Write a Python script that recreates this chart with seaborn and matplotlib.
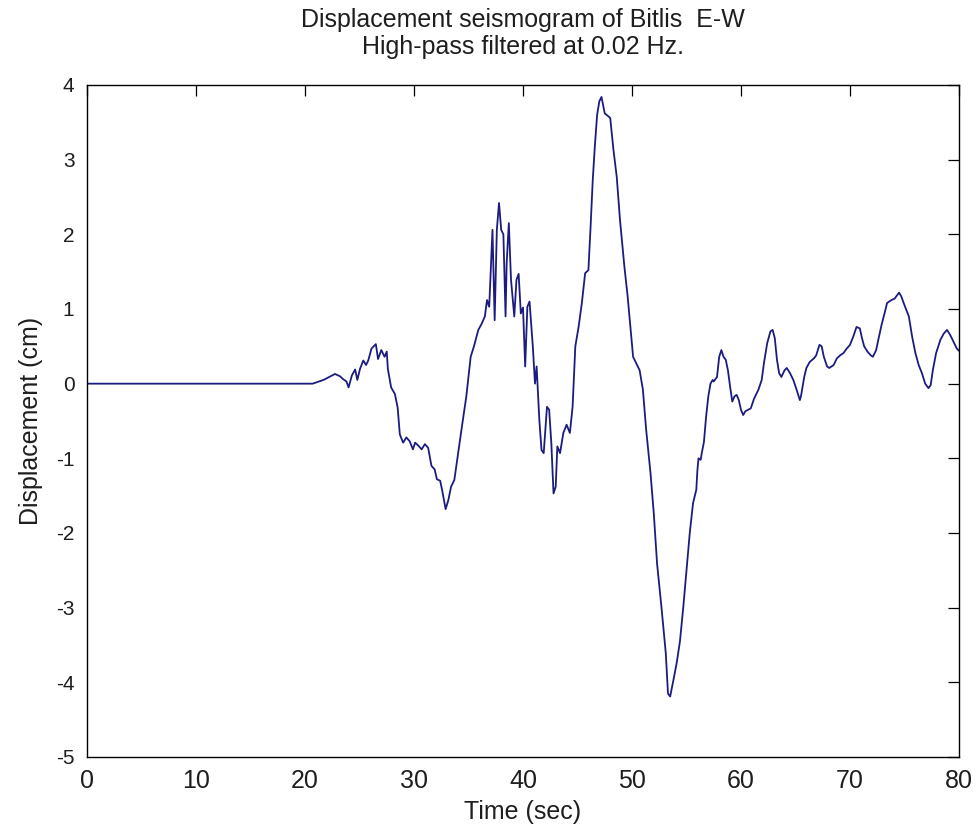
import matplotlib
matplotlib.use("Agg")
import matplotlib.pyplot as plt
import numpy as np
import pandas as pd
import seaborn as sns

# Bitlis E-W displacement trace (cm) against time (s), high-pass filtered at 0.02 Hz
time_s = [
    0.0, 20.7, 21.7, 22.3, 22.75, 23.2, 23.5, 23.8, 24.0, 24.3,
    24.6, 24.8, 25.05, 25.35, 25.6, 25.8, 26.1, 26.5, 26.7, 27.0,
    27.3, 27.5, 27.6, 27.9, 28.25, 28.5, 28.7, 29.0, 29.3, 29.6,
    29.9, 30.1, 30.4, 30.7, 31.0, 31.3, 31.6, 31.9, 32.1, 32.4,
    32.6, 32.9, 33.15, 33.4, 33.7, 34.05, 34.4, 34.8, 35.2, 35.5,
    35.9, 36.2, 36.5, 36.7, 36.9, 37.2, 37.4, 37.6, 37.8, 38.0,
    38.2, 38.4, 38.5, 38.7, 38.9, 39.2, 39.4, 39.6, 39.8, 40.0,
    40.2, 40.4, 40.6, 40.9, 41.1, 41.25, 41.5, 41.7, 41.9, 42.2,
    42.4, 42.6, 42.8, 43.0, 43.15, 43.4, 43.7, 44.0, 44.3, 44.55,
    44.8, 45.1, 45.4, 45.7, 46.0, 46.2, 46.4, 46.6, 46.8, 47.0,
    47.2, 47.5, 48.0, 48.3, 48.6, 48.9, 49.3, 49.6, 49.8, 50.1,
    50.4, 50.7, 51.0, 51.3, 51.7, 52.0, 52.3, 52.7, 53.1, 53.3,
    53.5, 53.8, 54.1, 54.4, 54.7, 55.0, 55.3, 55.6, 55.9, 56.0,
    56.1, 56.3, 56.4, 56.6, 56.8, 57.0, 57.2, 57.4, 57.5, 57.8,
    58.0, 58.2, 58.4, 58.6, 58.8, 59.0, 59.2, 59.4, 59.6, 59.8,
    60.0, 60.2, 60.4, 60.9, 61.2, 61.6, 61.9, 62.1, 62.4, 62.7,
    62.9, 63.1, 63.3, 63.5, 63.7, 64.0, 64.2, 64.5, 64.8, 65.1,
    65.4, 65.5, 65.8, 66.0, 66.3, 66.7, 66.9, 67.2, 67.4, 67.6,
    67.9, 68.1, 68.5, 68.8, 69.1, 69.4, 69.7, 70.0, 70.3, 70.6,
    70.9, 71.1, 71.3, 71.6, 71.9, 72.1, 72.4, 72.6, 72.9, 73.2,
    73.4, 73.8, 74.1, 74.5, 74.7, 75.0, 75.4, 75.7, 76.0, 76.3,
    76.6, 76.9, 77.2, 77.4, 77.6, 77.9, 78.3, 78.6, 78.9, 79.2,
    79.5, 79.8, 80.0,
]

displacement_cm = [
    0.0, 0.0, 0.05, 0.095, 0.13, 0.10, 0.06, 0.03, -0.05, 0.11,
    0.19, 0.05, 0.20, 0.31, 0.25, 0.31, 0.47, 0.53, 0.33, 0.45,
    0.36, 0.43, 0.20, -0.05, -0.14, -0.32, -0.68, -0.79, -0.72, -0.77,
    -0.88, -0.79, -0.83, -0.88, -0.81, -0.86, -1.10, -1.15, -1.28, -1.30,
    -1.44, -1.68, -1.56, -1.38, -1.29, -0.93, -0.57, -0.17, 0.36, 0.50,
    0.72, 0.80, 0.90, 1.12, 1.03, 2.06, 0.85, 2.06, 2.42, 2.06,
    2.00, 0.90, 1.61, 2.15, 1.39, 0.90, 1.39, 1.47, 0.94, 1.02,
    0.23, 1.03, 1.10, 0.50, 0.00, 0.23, -0.49, -0.89, -0.93, -0.31,
    -0.35, -0.80, -1.47, -1.38, -0.84, -0.93, -0.66, -0.55, -0.66, -0.31,
    0.50, 0.76, 1.08, 1.48, 1.52, 2.10, 2.73, 3.20, 3.60, 3.78,
    3.84, 3.62, 3.56, 3.13, 2.77, 2.19, 1.57, 1.17, 0.85, 0.36,
    0.27, 0.18, -0.08, -0.62, -1.20, -1.74, -2.41, -2.99, -3.61, -4.15,
    -4.19, -3.97, -3.74, -3.45, -3.00, -2.50, -2.00, -1.60, -1.42, -1.16,
    -1.00, -1.02, -0.93, -0.78, -0.44, -0.17, 0.00, 0.05, 0.03, 0.09,
    0.36, 0.45, 0.36, 0.32, 0.18, -0.04, -0.24, -0.17, -0.15, -0.22,
    -0.35, -0.42, -0.37, -0.33, -0.20, -0.08, 0.05, 0.27, 0.54, 0.70,
    0.72, 0.61, 0.32, 0.14, 0.09, 0.18, 0.21, 0.14, 0.05, -0.08,
    -0.22, -0.17, 0.09, 0.21, 0.29, 0.34, 0.38, 0.52, 0.50, 0.36,
    0.23, 0.21, 0.25, 0.34, 0.38, 0.41, 0.47, 0.52, 0.63, 0.76,
    0.74, 0.61, 0.50, 0.43, 0.38, 0.36, 0.45, 0.59, 0.79, 0.96,
    1.08, 1.12, 1.14, 1.22, 1.17, 1.05, 0.90, 0.63, 0.41, 0.25,
    0.14, 0.00, -0.06, -0.02, 0.18, 0.41, 0.59, 0.67, 0.72, 0.65,
    0.56, 0.47, 0.44,
]

x_ticks = [0, 10, 20, 30, 40, 50, 60, 70, 80]
y_ticks = [-5, -4, -3, -2, -1, 0, 1, 2, 3, 4]

title_lines = ["Displacement seismogram of Bitlis  E-W",
               "High-pass filtered at 0.02 Hz."]

sns.set_theme(style="white")
plt.rcParams["font.family"] = ["Liberation Sans", "DejaVu Sans"]
plt.rcParams["text.color"] = "#1e1e1e"
plt.rcParams["axes.labelcolor"] = "#1e1e1e"

df = pd.DataFrame({"Time (sec)": time_s, "Displacement (cm)": displacement_cm})

fig = plt.figure(figsize=(9.77, 8.32), dpi=100)
ax = fig.add_axes([87 / 977, 1 - 757 / 832, 872 / 977, 672 / 832])

sns.lineplot(data=df, x="Time (sec)", y="Displacement (cm)", ax=ax,
             color="#1c1c80", linewidth=1.3, estimator=None, sort=False)

ax.set_xlim(0, 80)
ax.set_ylim(-5, 4)
ax.set_xticks(x_ticks)
ax.set_yticks(y_ticks)
ax.set_xticklabels([str(v) for v in x_ticks], fontsize=18, color="#1e1e1e")
ax.set_yticklabels([str(v) for v in y_ticks], fontsize=15, color="#1e1e1e")
ax.tick_params(axis="both", direction="in", length=8, width=0.9,
               top=True, right=True, color="black")
ax.tick_params(axis="x", pad=9)
ax.tick_params(axis="y", pad=9)
for side in ax.spines.values():
    side.set_color("black")
    side.set_linewidth(1.0)

ax.set_xlabel("Time (sec)", fontsize=18, labelpad=5)
ax.set_ylabel("Displacement (cm)", fontsize=18, labelpad=9)

cx = (87 + 959) / 2 / 977
fig.text(cx, 1 - 27 / 832, title_lines[0], ha="center", va="baseline", fontsize=18)
fig.text(cx, 1 - 54 / 832, title_lines[1], ha="center", va="baseline", fontsize=18)

fig.savefig("out.png", dpi=100, facecolor="white")
